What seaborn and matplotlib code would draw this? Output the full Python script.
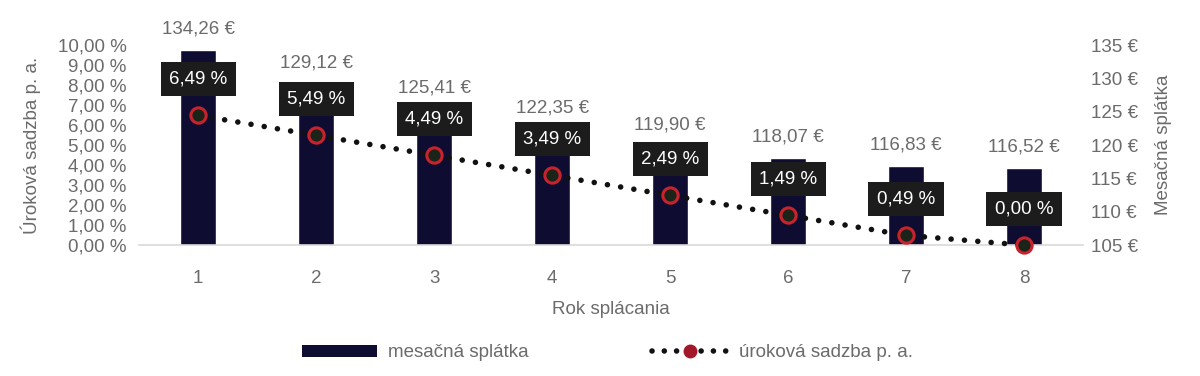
import numpy as np
import pandas as pd
import matplotlib
matplotlib.use("Agg")
import matplotlib.pyplot as plt
import seaborn as sns
from matplotlib.lines import Line2D
from matplotlib.patches import Patch

# data
years = ["1", "2", "3", "4", "5", "6", "7", "8"]
payments = [134.26, 129.12, 125.41, 122.35, 119.90, 118.07, 116.83, 116.52]
rates = [6.49, 5.49, 4.49, 3.49, 2.49, 1.49, 0.49, 0.00]
left_ticks = [0, 1, 2, 3, 4, 5, 6, 7, 8, 9, 10]
right_ticks = [105, 110, 115, 120, 125, 130, 135]

df = pd.DataFrame({"rok": years, "splatka": payments, "sadzba": rates})

sns.set_style("white")
plt.rcParams["font.family"] = ["Liberation Sans", "DejaVu Sans"]

GRAY = "#6b6b6b"
NAVY = "#0e0c30"
RED = "#c8232c"

fig = plt.figure(figsize=(12, 3.76), dpi=100)
ax_bar = fig.add_axes([0.116, 0.348, 0.7865, 0.532])
ax_line = ax_bar.twinx()

# bars - monthly payment (right scale)
sns.barplot(data=df, x="rok", y="splatka", order=years, color=NAVY,
            width=0.31, saturation=1, ax=ax_bar, zorder=1)
ax_bar.set_ylim(105, 135)
ax_bar.set_xlim(-0.5, 7.5)
ax_bar.yaxis.tick_right()
ax_bar.yaxis.set_label_position("right")
ax_bar.set_yticks(right_ticks)
ax_bar.set_yticklabels([f"{t} €" for t in right_ticks])
ax_bar.set_ylabel("Mesačná splátka", color=GRAY, fontsize=13.5, labelpad=12)
ax_bar.set_xlabel("Rok splácania", color=GRAY, fontsize=13.5, labelpad=10)
ax_bar.tick_params(axis="y", length=0, pad=6, labelsize=13.5, labelcolor=GRAY,
                   left=False, labelleft=False, right=True, labelright=True)
ax_bar.tick_params(axis="x", length=0, pad=18, labelsize=13.5, labelcolor=GRAY)
ax_bar.bar_label(ax_bar.containers[0],
                 labels=[f"{v:.2f} €".replace(".", ",") for v in payments],
                 padding=9, color=GRAY, fontsize=13.5)
for s in ["top", "left", "right"]:
    ax_bar.spines[s].set_visible(False)
ax_bar.spines["bottom"].set_color("#d9d9d9")
ax_bar.spines["bottom"].set_linewidth(1.2)

# line - interest rate (left scale)
idx = np.arange(len(years))
sns.lineplot(x=idx, y=rates, ax=ax_line, color="#111111", lw=4,
             linestyle=(0, (0.01, 2.4)), dash_capstyle="round",
             marker="o", markersize=11, markerfacecolor="#1b2419",
             markeredgecolor=RED, markeredgewidth=2.2, clip_on=False, zorder=3)
ax_line.set_ylim(0, 10)
ax_line.yaxis.set_label_position("left")
ax_line.set_yticks(left_ticks)
ax_line.set_yticklabels([f"{t:.2f} %".replace(".", ",") for t in left_ticks])
ax_line.set_ylabel("Úroková sadzba p. a.", color=GRAY, fontsize=13.5, labelpad=12)
ax_line.tick_params(axis="y", length=0, pad=9, labelsize=13.5, labelcolor=GRAY,
                    left=True, labelleft=True, right=False, labelright=False)
for s in ["top", "left", "right", "bottom"]:
    ax_line.spines[s].set_visible(False)

for x, r in zip(idx, rates):
    ax_line.annotate(f"{r:.2f} %".replace(".", ","), (x, r),
                     xytext=(0, 26), textcoords="offset points",
                     ha="center", va="center", color="white", fontsize=13.5,
                     bbox=dict(boxstyle="square,pad=0.45", fc="#1c1c1c", ec="none"),
                     zorder=5, annotation_clip=False)

handles = [
    Patch(facecolor=NAVY, edgecolor="none"),
    Line2D([0], [0], color="#111111", lw=4, linestyle=(0, (0.01, 2.2)),
           dash_capstyle="round", marker="o", markersize=9,
           markerfacecolor="#a3172a", markeredgecolor="#a3172a"),
]
fig.legend(handles, ["mesačná splátka", "úroková sadzba p. a."],
           loc="center", bbox_to_anchor=(0.506, 0.062), ncol=2, frameon=False,
           fontsize=13.5, labelcolor=GRAY, handlelength=4.0, handleheight=0.6,
           columnspacing=6.6, handletextpad=0.6)

fig.savefig("out.png", dpi=100, facecolor="white")
